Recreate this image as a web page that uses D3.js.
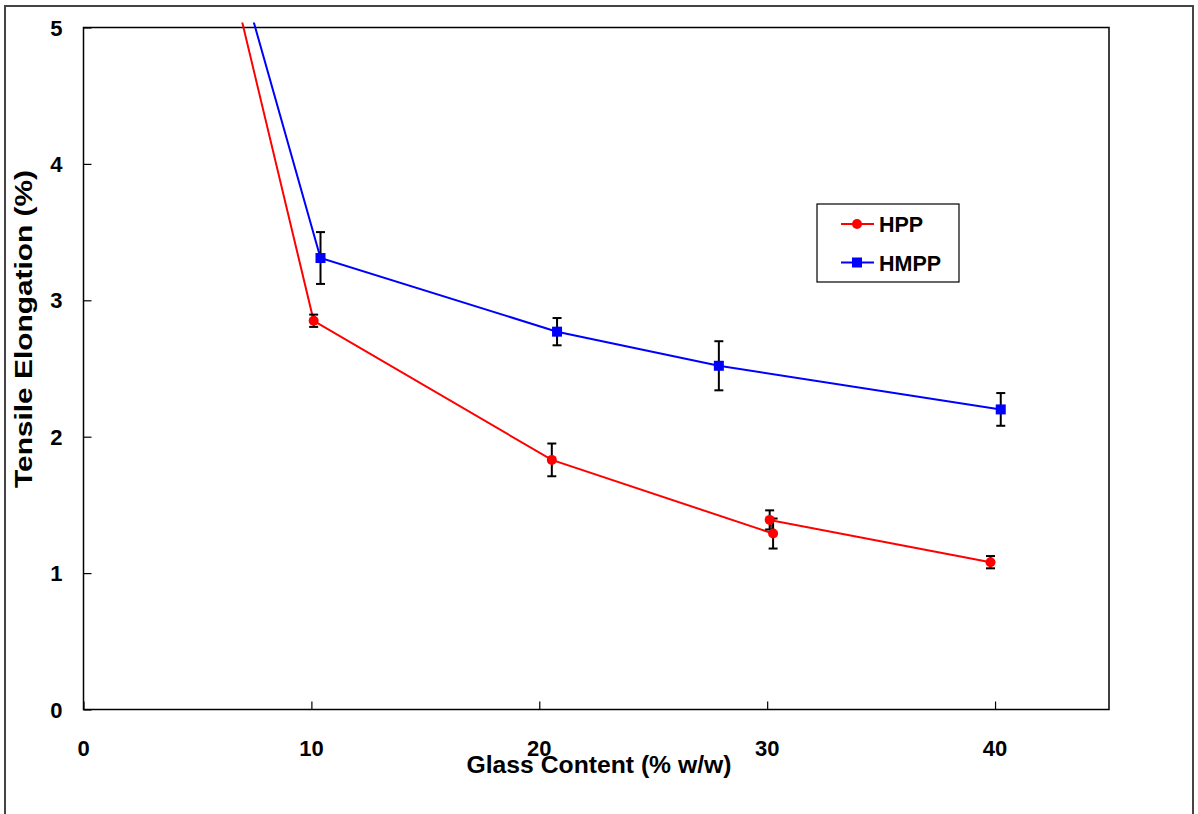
<!DOCTYPE html>
<html>
<head>
<meta charset="utf-8">
<script src="https://cdn.jsdelivr.net/npm/d3@7"></script>
<style>
  body { margin: 0; background: #fff; }
  text { font-family: "Liberation Sans", Arial, sans-serif; font-weight: bold; fill: #000; }
</style>
</head>
<body>
<div id="chart"></div>
<script>
// Data
const hppX   = [0, 10.1, 20.55, 30.26, 30.11, 39.8];
const hppY   = [9.9, 2.85, 1.83, 1.29, 1.39, 1.08];
const hppErr = [0, 0.045, 0.12, 0.11, 0.07, 0.045];

const hmppX   = [0, 10.4, 20.78, 27.88, 40.25];
const hmppY   = [9.45, 3.31, 2.77, 2.52, 2.2];
const hmppErr = [0, 0.19, 0.10, 0.18, 0.12];

const xTicks = [0, 10, 20, 30, 40];
const yTicks = [0, 1, 2, 3, 4, 5];

// Set up dimensions
const W = 1198, H = 814;
const margin = { top: 27.5, right: 89, bottom: 104.5, left: 83.5 };
const width = W - margin.left - margin.right;
const height = H - margin.top - margin.bottom;

const root = d3.select("#chart")
    .append("svg")
    .attr("width", W)
    .attr("height", H);

// Outer chart frame
root.append("rect")
    .attr("x", 5).attr("y", 6)
    .attr("width", 1188).attr("height", 830)
    .attr("fill", "none")
    .attr("stroke", "#444")
    .attr("stroke-width", 2);

const svg = root.append("g")
    .attr("transform", `translate(${margin.left},${margin.top})`);

const xScale = d3.scaleLinear().domain([0, 45]).range([0, width]);
const yScale = d3.scaleLinear().domain([0, 5]).range([height, 0]);

// Clip lines a little above the plot top, as the original does
svg.append("clipPath").attr("id", "clip")
    .append("rect")
    .attr("x", 0).attr("y", -5)
    .attr("width", width).attr("height", height + 5);

// Plot area border
svg.append("rect")
    .attr("width", width).attr("height", height)
    .attr("fill", "none")
    .attr("stroke", "#000")
    .attr("stroke-width", 1.5);

// Axes with inward ticks
const xAxis = svg.append("g")
    .attr("transform", `translate(0,${height})`)
    .call(d3.axisTop(xScale).tickValues(xTicks).tickSize(8).tickFormat(""));
xAxis.select(".domain").remove();
xAxis.selectAll("line").attr("stroke-width", 1.2);

const yAxis = svg.append("g")
    .call(d3.axisRight(yScale).tickValues(yTicks).tickSize(8).tickFormat(""));
yAxis.select(".domain").remove();
yAxis.selectAll("line").attr("stroke-width", 1.2);

// Tick labels
svg.selectAll(".xlab").data(xTicks).enter().append("text")
    .attr("x", d => xScale(d))
    .attr("y", height + 46)
    .attr("text-anchor", "middle")
    .style("font-size", "22px")
    .text(d => d);

svg.selectAll(".ylab").data(yTicks).enter().append("text")
    .attr("x", -21)
    .attr("y", d => yScale(d) + 8)
    .attr("text-anchor", "end")
    .style("font-size", "22px")
    .text(d => d);

// Axis titles
root.append("text")
    .attr("x", 599).attr("y", 773)
    .attr("text-anchor", "middle")
    .attr("textLength", 265)
    .attr("lengthAdjust", "spacingAndGlyphs")
    .style("font-size", "23px")
    .text("Glass Content (% w/w)");

root.append("text")
    .attr("transform", "translate(32,329) rotate(-90)")
    .attr("text-anchor", "middle")
    .attr("textLength", 318)
    .attr("lengthAdjust", "spacingAndGlyphs")
    .style("font-size", "23px")
    .text("Tensile Elongation (%)");

const series = [
    { name: "HPP", xs: hppX, ys: hppY, err: hppErr, color: "#ff0000", shape: "circle" },
    { name: "HMPP", xs: hmppX, ys: hmppY, err: hmppErr, color: "#0000ff", shape: "square" }
];

const line = d3.line()
    .x(d => xScale(d.x))
    .y(d => yScale(d.y));

series.forEach(s => {
    const pts = s.xs.map((x, i) => ({ x: x, y: s.ys[i], e: s.err[i] }));

    svg.append("path")
        .datum(pts)
        .attr("clip-path", "url(#clip)")
        .attr("fill", "none")
        .attr("stroke", s.color)
        .attr("stroke-width", 2)
        .attr("d", line);

    // Error bars
    const eb = pts.filter(d => d.e > 0);
    const g = svg.append("g").attr("stroke", "#000").attr("stroke-width", 2);
    eb.forEach(d => {
        const cx = xScale(d.x);
        g.append("line")
            .attr("x1", cx).attr("x2", cx)
            .attr("y1", yScale(d.y - d.e)).attr("y2", yScale(d.y + d.e));
        [d.y - d.e, d.y + d.e].forEach(v => {
            g.append("line")
                .attr("x1", cx - 4.5).attr("x2", cx + 4.5)
                .attr("y1", yScale(v)).attr("y2", yScale(v));
        });
    });

    // Markers (only the points inside the plot)
    const vis = pts.filter(d => d.y <= 5);
    if (s.shape === "circle") {
        svg.selectAll(null).data(vis).enter().append("circle")
            .attr("cx", d => xScale(d.x))
            .attr("cy", d => yScale(d.y))
            .attr("r", 5)
            .attr("fill", s.color);
    } else {
        svg.selectAll(null).data(vis).enter().append("rect")
            .attr("x", d => xScale(d.x) - 5)
            .attr("y", d => yScale(d.y) - 5)
            .attr("width", 10).attr("height", 10)
            .attr("fill", s.color);
    }
});

// Legend
const legend = root.append("g").attr("transform", "translate(817,204)");
legend.append("rect")
    .attr("width", 142).attr("height", 78)
    .attr("fill", "#fff")
    .attr("stroke", "#000")
    .attr("stroke-width", 1.2);

series.forEach((s, i) => {
    const ly = 20 + i * 38.5;
    legend.append("line")
        .attr("x1", 24).attr("x2", 57)
        .attr("y1", ly).attr("y2", ly)
        .attr("stroke", s.color).attr("stroke-width", 2);
    if (s.shape === "circle") {
        legend.append("circle").attr("cx", 40).attr("cy", ly).attr("r", 5).attr("fill", s.color);
    } else {
        legend.append("rect").attr("x", 35).attr("y", ly - 5).attr("width", 10).attr("height", 10).attr("fill", s.color);
    }
    legend.append("text")
        .attr("x", 62).attr("y", ly + 8)
        .style("font-size", "21.5px")
        .text(s.name);
});
</script>
</body>
</html>
